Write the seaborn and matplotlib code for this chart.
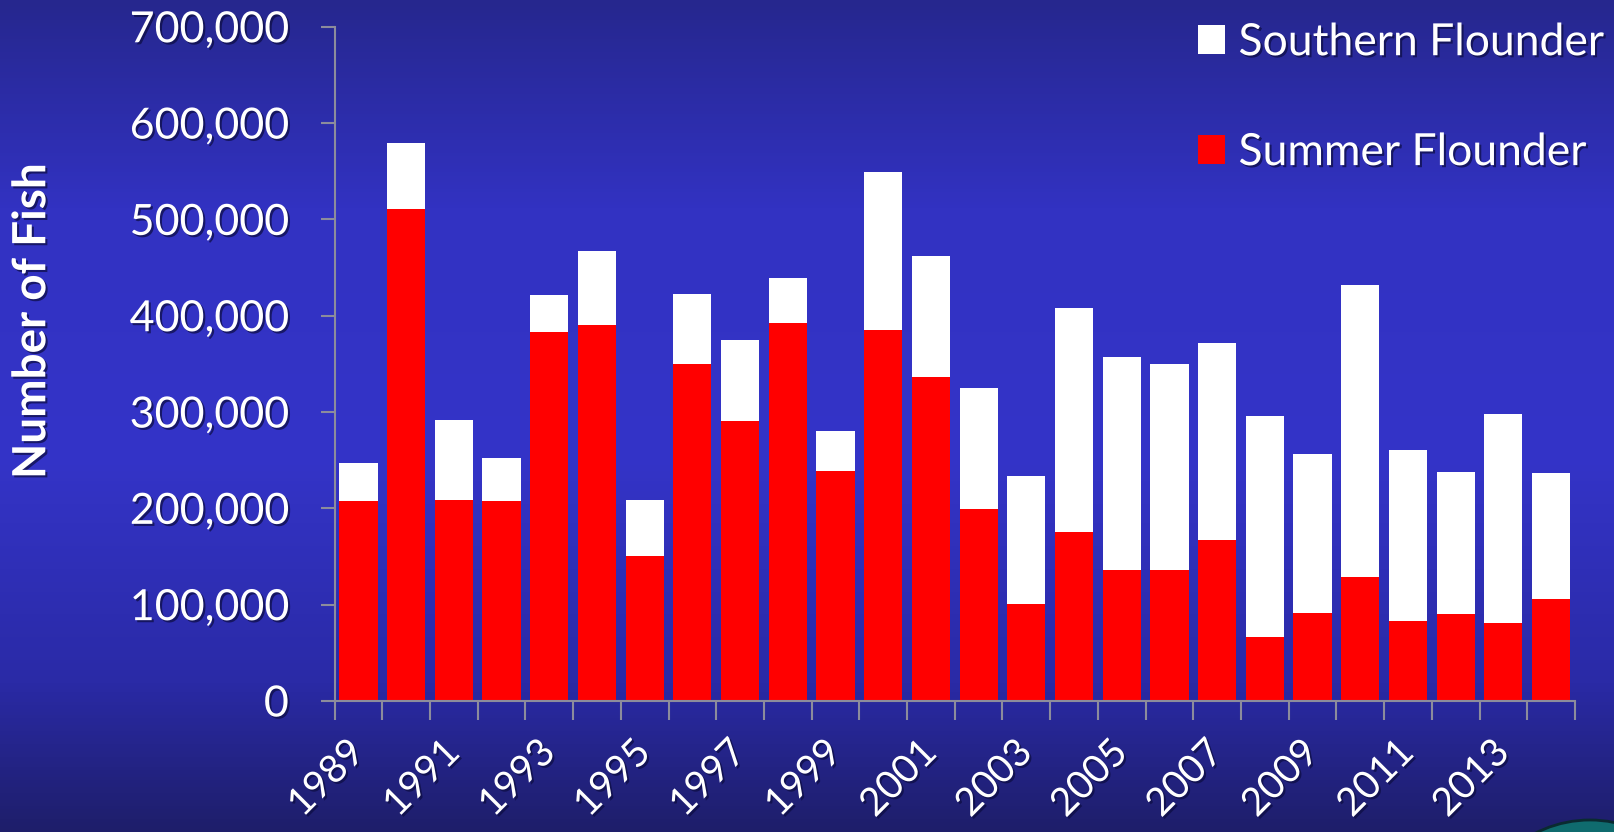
import numpy as np
import pandas as pd
import matplotlib
matplotlib.use("Agg")
import matplotlib.pyplot as plt
import matplotlib.patheffects as pe
from matplotlib.patches import Rectangle, Circle
from matplotlib.colors import LinearSegmentedColormap
from matplotlib.ticker import FuncFormatter, FixedLocator
import seaborn as sns

# Data (number of fish)
years = list(range(1989, 2015))
summer = [208000, 511000, 209000, 208000, 383000, 390000, 151000, 350000, 291000, 392000,
          239000, 385000, 336000, 199000, 101000, 175000, 136000, 136000, 167000, 66000,
          91000, 129000, 83000, 90000, 81000, 106000]
southern = [39000, 68000, 83000, 44000, 38000, 77000, 58000, 73000, 84000, 47000,
            41000, 164000, 126000, 126000, 133000, 233000, 221000, 214000, 205000, 230000,
            165000, 303000, 178000, 148000, 217000, 131000]
year_labels = [str(y) if (y - 1989) % 2 == 0 else "" for y in years]

df = pd.DataFrame({"year": years, "summer": summer, "southern": southern})
df["total"] = df["summer"] + df["southern"]

sns.set_theme(style="white")
plt.rcParams['font.family'] = ['Lato', 'DejaVu Sans']

shadow = [pe.withSimplePatchShadow(offset=(1.5, -1.5), shadow_rgbFace="#0c0c40", alpha=0.7)]
grey = "#8c8c9c"

fig = plt.figure(figsize=(16.14, 8.32), dpi=100)

# gradient background
bg = fig.add_axes([0, 0, 1, 1], zorder=0)
grad = LinearSegmentedColormap.from_list(
    "bg", [(0.0, "#1e1e6a"), (0.18, "#2a2aa6"), (0.45, "#3434c8"), (0.75, "#3232c2"), (1.0, "#26278e")])
bg.imshow(np.linspace(0, 1, 256).reshape(-1, 1), aspect="auto", cmap=grad, origin="lower",
          extent=[0, 1614, 0, 832])
bg.add_patch(Circle((1590, -108), 120, facecolor="#0f6b6e", edgecolor="#0a2a30", lw=2))
bg.set_xlim(0, 1614)
bg.set_ylim(0, 832)
bg.axis("off")

ax = fig.add_axes([0.2073, 0.1575, 0.7685, 0.8103], zorder=1)
ax.patch.set_alpha(0)

# stacked bars: total in white, summer in red on top
sns.barplot(data=df, x="year", y="total", color="white", width=0.8, saturation=1,
            linewidth=0, edgecolor="none", ax=ax)
sns.barplot(data=df, x="year", y="summer", color="red", width=0.8, saturation=1,
            linewidth=0, edgecolor="none", ax=ax)

ax.set_xlim(-0.5, len(years) - 0.5)
ax.set_ylim(0, 700000)
ax.set_yticks(np.arange(0, 700001, 100000))
ax.yaxis.set_major_formatter(FuncFormatter(lambda v, p: f"{int(v):,}"))
ax.set_xlabel("")
ax.set_ylabel("")

# ticks at category boundaries, labels on every other bar
ax.xaxis.set_major_locator(FixedLocator(np.arange(-0.5, len(years), 1)))
ax.set_xticklabels([])
ax.xaxis.set_minor_locator(FixedLocator(np.arange(len(years))))
ax.set_xticklabels(year_labels, minor=True)
ax.tick_params(axis="x", which="major", bottom=True, length=14, width=1.5, color=grey, direction="out")
ax.tick_params(axis="x", which="minor", bottom=True, length=0, pad=33, labelsize=28, labelcolor="white")
for lab in ax.get_xticklabels(minor=True):
    lab.set_rotation(45)
    lab.set_ha("right")
    lab.set_va("center")
    lab.set_rotation_mode("anchor")
    lab.set_path_effects(shadow)

ax.tick_params(axis="y", left=True, length=10, width=1.5, color=grey, labelsize=31,
               labelcolor="white", pad=23)
for lab in ax.get_yticklabels():
    lab.set_path_effects(shadow)

for s in ["top", "right"]:
    ax.spines[s].set_visible(False)
for s in ["left", "bottom"]:
    ax.spines[s].set_color(grey)
    ax.spines[s].set_linewidth(1.5)

fig.text(0.020, 1 - 321 / 832, "Number of Fish", rotation=90, ha="center", va="center",
         fontsize=33, fontweight="bold", color="white", path_effects=shadow)

handles = [Rectangle((0, 0), 1, 1, facecolor="white", edgecolor="none"),
           Rectangle((0, 0), 1, 1, facecolor="red", edgecolor="none")]
leg = fig.legend(handles, ["Southern Flounder", "Summer Flounder"], loc="upper right",
                 bbox_to_anchor=(1.012, 1.008), frameon=False, fontsize=32, handlelength=0.62,
                 handleheight=0.62, handletextpad=0.3, labelspacing=1.55, borderaxespad=0.25)
for t in leg.get_texts():
    t.set_color("white")
    t.set_path_effects(shadow)

fig.savefig("out.png", dpi=100)
